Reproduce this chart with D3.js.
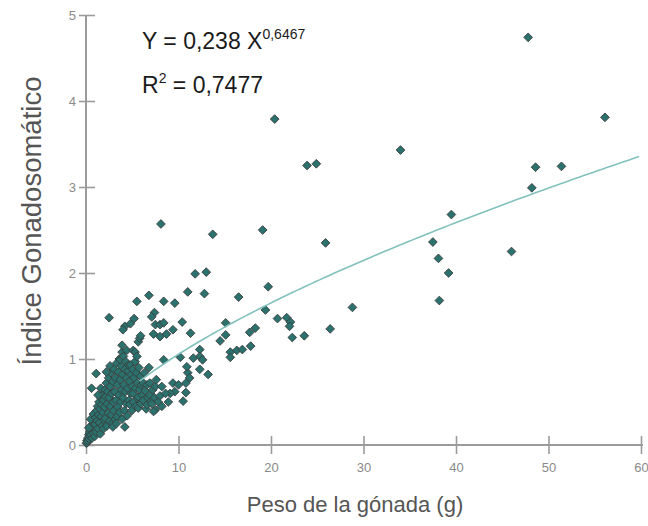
<!DOCTYPE html>
<html>
<head>
<meta charset="utf-8">
<script src="https://cdn.jsdelivr.net/npm/d3@7/dist/d3.min.js"></script>
<style>
  html, body { margin: 0; padding: 0; background: #fff; }
  svg { display: block; font-family: "Liberation Sans", Arial, sans-serif; }
</style>
</head>
<body>
<svg id="chart" width="648" height="526"></svg>
<script>
/* Índice gonadosomático vs peso de la gónada — dispersión + ajuste potencial */

var xTicks = [0, 10, 20, 30, 40, 50, 60];
var yTicks = [0, 1, 2, 3, 4, 5];

// Y = a X^b  (texto de la ecuación mostrado en el gráfico)
var coefA = 0.238, coefB = 0.6467;
var ecuacionTexto = ['Y = 0,238 X', '0,6467'];
var r2Texto = '0,7477';
var ajusteDesde = 5.8, ajusteHasta = 60;

// puntos dispersos (peso g, IGS)
var puntosDispersos = [
  [47.8,4.74],[56.1,3.81],[20.4,3.79],[34.0,3.43],[23.9,3.25],[24.9,3.27],[48.6,3.23],[51.4,3.24],
  [48.2,2.99],[39.5,2.68],[37.5,2.36],[38.1,2.17],[39.2,2.00],[46.0,2.25],[38.2,1.68],
  [8.1,2.57],[13.7,2.45],[19.1,2.50],[25.9,2.35],[11.8,1.99],[13.0,2.01],[11.0,1.78],[12.8,1.76],
  [16.5,1.72],[19.7,1.84],[19.4,1.57],[28.8,1.60],[15.1,1.42],[20.7,1.47],[21.7,1.48],[22.1,1.43],
  [22.0,1.38],[18.3,1.36],[17.7,1.31],[26.4,1.35],[22.3,1.25],[23.6,1.27]
];

// nube media (5 - 18 g)
var puntosMedios = [
  [8.4,1.67],[9.6,1.65],[6.8,1.74],[5.5,1.67],[7.4,1.54],[7.1,1.49],[7.5,1.40],[8.0,1.40],[8.4,1.42],
  [10.4,1.43],[7.3,1.29],[8.0,1.26],[8.7,1.29],[9.4,1.34],[11.3,1.30],[15.1,1.28],[14.5,1.21],
  [12.3,1.11],[12.3,1.03],[11.6,1.01],[12.6,0.99],[15.6,1.08],[16.3,1.10],[16.9,1.11],[15.6,1.02],
  [17.8,1.15],[10.2,1.02],[8.4,0.99],[12.3,0.88],[13.2,0.82],[11.0,0.84],[11.2,0.78],[10.9,0.91],
  [10.8,0.72],[10.8,0.61],[10.5,0.51],[9.4,0.72],[10.0,0.70],[9.6,0.62],[9.1,0.60],[8.9,0.50],
  [8.2,0.68],[8.6,0.60],[8.2,0.45],[7.3,0.39],[7.1,0.48]
];

// nube densa cerca del origen (0 - 8 g)
var puntosDensos = [
  [0.05,0.02],[0.1,0.05],[0.15,0.03],[0.2,0.08],[0.25,0.05],[0.3,0.12],[0.35,0.07],[0.4,0.15],
  [0.45,0.10],[0.5,0.19],[0.55,0.12],[0.6,0.22],[0.65,0.08],[0.7,0.17],[0.75,0.25],[0.8,0.14],
  [0.85,0.28],[0.9,0.20],[0.95,0.10],[0.6,0.66],[1.1,0.83],[0.5,0.30],[0.8,0.36],[0.3,0.20],
  [1.0,0.24],[1.05,0.32],[1.1,0.15],[1.15,0.40],[1.2,0.28],[1.25,0.45],[1.3,0.19],[1.35,0.35],
  [1.4,0.50],[1.45,0.26],[1.5,0.42],[1.55,0.13],[1.6,0.55],[1.65,0.33],[1.7,0.47],[1.75,0.22],
  [1.8,0.60],[1.85,0.38],[1.9,0.52],[1.95,0.29],[1.3,0.58],[1.6,0.66],[1.9,0.19],
  [2.0,0.44],[2.05,0.64],[2.1,0.31],[2.15,0.56],[2.2,0.72],[2.25,0.22],[2.3,0.48],[2.35,0.62],
  [2.4,0.37],[2.45,0.78],[2.5,0.55],[2.55,0.28],[2.6,0.68],[2.65,0.45],[2.7,0.84],[2.75,0.35],
  [2.8,0.60],[2.85,0.25],[2.9,0.74],[2.95,0.50],[2.2,0.85],[2.6,0.92],[2.9,0.21],
  [3.0,0.40],[3.05,0.88],[3.1,0.62],[3.15,0.30],[3.2,0.78],[3.25,0.52],[3.3,0.95],[3.35,0.33],
  [3.4,0.70],[3.45,0.44],[3.5,0.85],[3.55,0.58],[3.6,1.00],[3.65,0.38],[3.7,0.76],[3.75,0.50],
  [3.8,0.92],[3.85,0.64],[3.9,0.30],[3.95,0.82],[3.3,0.25],[3.7,0.99],[3.9,1.08],[3.9,1.16],
  [4.0,0.55],[4.05,1.03],[4.1,0.70],[4.15,0.40],[4.2,0.88],[4.2,0.21],[4.25,0.62],[4.3,0.97],
  [4.35,0.48],[4.4,0.78],[4.4,1.10],[4.45,0.34],[4.5,0.66],[4.55,0.86],[4.6,0.93],[4.65,0.52],
  [4.7,0.74],[4.75,0.47],[4.8,0.93],[4.85,0.60],[4.9,0.82],[4.95,0.40],[4.2,1.38],[4.0,1.34],
  [4.8,1.41],[5.2,1.47],[2.5,1.48],
  [5.0,0.68],[5.05,0.88],[5.1,0.60],[5.1,1.10],[5.15,0.50],[5.2,0.78],[5.3,0.97],[5.3,1.08],
  [5.35,0.66],[5.4,0.45],[5.45,0.84],[5.5,1.03],[5.55,0.72],[5.6,0.54],[5.65,0.56],[5.65,0.43],
  [5.65,1.20],[5.7,0.90],[5.8,0.64],[5.8,1.24],[5.9,0.80],[5.9,1.27],[5.95,0.48],
  [6.0,0.70],[6.1,0.58],[6.2,0.52],[6.2,0.72],[6.3,0.84],[6.4,0.63],[6.5,0.42],[6.6,0.47],
  [6.6,0.70],[6.7,0.55],[6.8,0.90],[6.9,0.58],[6.9,0.72],[7.0,0.50],[7.2,0.64],[7.4,0.55],
  [7.5,0.41],[7.5,0.68],[7.6,0.76],[7.8,0.50],[8.0,0.57]
];

var svg = d3.select('#chart');

var x = d3.scaleLinear().domain([0, 60]).range([86, 641]);
var y = d3.scaleLinear().domain([0, 5]).range([445, 15]);

var colorEje = '#9b9b9b';
var colorTexto = '#8a8a8a';

// eje X
var gx = svg.append('g')
  .attr('transform', 'translate(0,' + y(0) + ')')
  .call(d3.axisBottom(x).tickValues(xTicks).tickFormat(d3.format('d')).tickSize(0).tickPadding(0));
gx.select('.domain').attr('d', 'M' + x(0) + ',0H643').attr('stroke', colorEje).attr('stroke-width', 2);
gx.selectAll('.tick line').attr('y1', -9).attr('y2', 9).attr('stroke', colorEje).attr('stroke-width', 1.6);
gx.selectAll('.tick text').attr('y', 27).attr('dy', 0).attr('fill', colorTexto).attr('font-size', 13);

// eje Y
var gy = svg.append('g')
  .attr('transform', 'translate(' + x(0) + ',0)')
  .call(d3.axisLeft(y).tickValues(yTicks).tickFormat(d3.format('d')).tickSize(0).tickPadding(0));
gy.select('.domain').attr('d', 'M0,' + y(5) + 'V' + (y(0) + 1)).attr('stroke', colorEje).attr('stroke-width', 2);
gy.selectAll('.tick line').attr('x1', -7).attr('x2', 9).attr('stroke', colorEje).attr('stroke-width', 1.6);
gy.selectAll('.tick text').attr('x', -10).attr('dy', '0.35em').attr('fill', colorTexto).attr('font-size', 13);

// marcador rombo
var rombo = {
  draw: function(ctx, size) {
    var r = Math.sqrt(size / 2);
    ctx.moveTo(0, -r); ctx.lineTo(r, 0); ctx.lineTo(0, r); ctx.lineTo(-r, 0); ctx.closePath();
  }
};

var todos = puntosDensos.concat(puntosMedios, puntosDispersos);

svg.append('g').selectAll('path')
  .data(todos).join('path')
  .attr('d', d3.symbol().type(rombo).size(38))
  .attr('transform', function(d) { return 'translate(' + x(d[0]) + ',' + y(d[1]) + ')'; })
  .attr('fill', '#2b716d')
  .attr('stroke', '#3a3d3d')
  .attr('stroke-width', 0.9);

// curva de ajuste potencial
var ajuste = d3.range(ajusteDesde, ajusteHasta + 0.01, 0.5).map(function(v) {
  return [v, coefA * Math.pow(v, coefB)];
});
svg.append('path')
  .datum(ajuste)
  .attr('fill', 'none')
  .attr('stroke', '#82c1bc')
  .attr('stroke-width', 1.6)
  .attr('d', d3.line().x(function(d) { return x(d[0]); }).y(function(d) { return y(d[1]); }));

// ecuación
var eq = svg.append('text').attr('x', 142).attr('y', 49).attr('font-size', 23).attr('fill', '#1a1a1a');
eq.append('tspan').text(ecuacionTexto[0]);
eq.append('tspan').attr('font-size', 14).attr('dy', -10).text(ecuacionTexto[1]);

var r2 = svg.append('text').attr('x', 142).attr('y', 93).attr('font-size', 23).attr('fill', '#1a1a1a');
r2.append('tspan').text('R');
r2.append('tspan').attr('font-size', 14).attr('dy', -10).text('2');
r2.append('tspan').attr('dy', 10).text(' = ' + r2Texto);

// títulos de ejes
svg.append('text')
  .attr('x', 355).attr('y', 512)
  .attr('text-anchor', 'middle')
  .attr('font-size', 22)
  .attr('fill', '#555')
  .text('Peso de la gónada (g)');

svg.append('text')
  .attr('transform', 'translate(41,221) rotate(-90)')
  .attr('text-anchor', 'middle')
  .attr('font-size', 27.5)
  .attr('fill', '#555')
  .text('Índice Gonadosomático');
</script>
</body>
</html>
